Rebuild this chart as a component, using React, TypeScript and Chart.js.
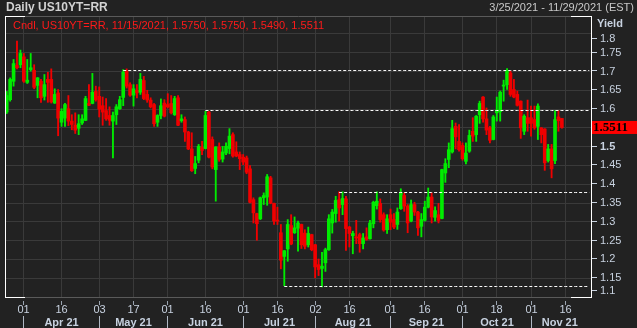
import React, { useEffect, useRef } from 'react';
import { Chart, registerables } from 'chart.js';
Chart.register(...registerables);

// ---------- data ----------
const HOLIDAYS = ['2021-05-31', '2021-07-05', '2021-09-06', '2021-10-11', '2021-11-11', '2021-11-25'];
function tradingDays(start: string, end: string): string[] {
  const out: string[] = [];
  const d = new Date(start + 'T00:00:00Z');
  const e = new Date(end + 'T00:00:00Z');
  while (d <= e) {
    const wd = d.getUTCDay();
    const s = d.toISOString().slice(0, 10);
    if (wd !== 0 && wd !== 6 && !HOLIDAYS.includes(s)) out.push(s);
    d.setUTCDate(d.getUTCDate() + 1);
  }
  return out;
}
const dates = tradingDays('2021-03-25', '2021-11-26');

const opens = [
  1.592, 1.625, 1.674, 1.716, 1.718, 1.739, 1.671, 1.705, 1.703, 1.663,
  1.674, 1.634, 1.679, 1.679, 1.616, 1.643, 1.565, 1.576, 1.601, 1.568,
  1.557, 1.549, 1.563, 1.570, 1.615, 1.615, 1.647, 1.634, 1.609, 1.596,
  1.583, 1.568, 1.585, 1.601, 1.631, 1.701, 1.665, 1.637, 1.650, 1.645,
  1.676, 1.639, 1.624, 1.612, 1.565, 1.583, 1.616, 1.612, 1.615, 1.585,
  1.630, 1.569, 1.572, 1.539, 1.494, 1.442, 1.464, 1.498, 1.495, 1.592,
  1.519, 1.439, 1.499, 1.467, 1.483, 1.495, 1.532, 1.486, 1.479, 1.472,
  1.470, 1.441, 1.359, 1.322, 1.308, 1.364, 1.366, 1.417, 1.349, 1.304,
  1.271, 1.208, 1.228, 1.290, 1.271, 1.283, 1.293, 1.270, 1.239, 1.266,
  1.239, 1.186, 1.176, 1.191, 1.226, 1.297, 1.322, 1.359, 1.346, 1.361,
  1.286, 1.263, 1.260, 1.266, 1.242, 1.260, 1.255, 1.295, 1.343, 1.349,
  1.319, 1.279, 1.319, 1.306, 1.293, 1.335, 1.370, 1.342, 1.302, 1.346,
  1.326, 1.288, 1.304, 1.339, 1.366, 1.312, 1.319, 1.309, 1.430, 1.466,
  1.486, 1.554, 1.514, 1.503, 1.461, 1.488, 1.541, 1.532, 1.585, 1.632,
  1.574, 1.550, 1.519, 1.590, 1.593, 1.661, 1.665, 1.696, 1.652, 1.639,
  1.621, 1.541, 1.577, 1.577, 1.572, 1.554, 1.550, 1.547, 1.463, 1.494,
  1.463, 1.579, 1.575,
];
const highs = [
  1.647, 1.683, 1.732, 1.781, 1.757, 1.748, 1.732, 1.748, 1.718, 1.684,
  1.679, 1.692, 1.698, 1.707, 1.654, 1.652, 1.601, 1.615, 1.636, 1.585,
  1.590, 1.585, 1.585, 1.634, 1.665, 1.695, 1.661, 1.659, 1.632, 1.628,
  1.606, 1.592, 1.612, 1.634, 1.705, 1.707, 1.670, 1.665, 1.665, 1.695,
  1.687, 1.650, 1.630, 1.615, 1.585, 1.627, 1.625, 1.641, 1.636, 1.634,
  1.636, 1.585, 1.579, 1.541, 1.537, 1.474, 1.506, 1.514, 1.594, 1.594,
  1.526, 1.500, 1.510, 1.501, 1.510, 1.548, 1.537, 1.513, 1.486, 1.479,
  1.475, 1.450, 1.364, 1.323, 1.366, 1.377, 1.426, 1.421, 1.350, 1.339,
  1.293, 1.224, 1.306, 1.319, 1.313, 1.302, 1.294, 1.279, 1.286, 1.267,
  1.240, 1.201, 1.219, 1.230, 1.319, 1.333, 1.368, 1.380, 1.380, 1.368,
  1.288, 1.275, 1.304, 1.270, 1.269, 1.284, 1.304, 1.355, 1.380, 1.361,
  1.324, 1.319, 1.334, 1.322, 1.337, 1.388, 1.377, 1.346, 1.358, 1.352,
  1.328, 1.322, 1.355, 1.390, 1.377, 1.340, 1.349, 1.440, 1.468, 1.510,
  1.570, 1.563, 1.559, 1.510, 1.510, 1.544, 1.577, 1.583, 1.621, 1.633,
  1.603, 1.554, 1.583, 1.632, 1.648, 1.677, 1.708, 1.701, 1.679, 1.648,
  1.622, 1.585, 1.624, 1.608, 1.608, 1.614, 1.551, 1.548, 1.506, 1.506,
  1.596, 1.596, 1.575,
];
const lows = [
  1.588, 1.621, 1.661, 1.707, 1.710, 1.671, 1.668, 1.701, 1.654, 1.630,
  1.618, 1.624, 1.618, 1.616, 1.615, 1.529, 1.554, 1.554, 1.556, 1.545,
  1.535, 1.532, 1.559, 1.569, 1.609, 1.614, 1.621, 1.579, 1.557, 1.570,
  1.557, 1.470, 1.559, 1.599, 1.609, 1.656, 1.634, 1.608, 1.630, 1.639,
  1.625, 1.618, 1.603, 1.554, 1.554, 1.574, 1.579, 1.603, 1.587, 1.583,
  1.556, 1.565, 1.514, 1.492, 1.434, 1.428, 1.457, 1.479, 1.494, 1.470,
  1.441, 1.355, 1.461, 1.459, 1.479, 1.481, 1.472, 1.473, 1.439, 1.452,
  1.428, 1.350, 1.297, 1.251, 1.306, 1.346, 1.344, 1.348, 1.293, 1.293,
  1.175, 1.130, 1.195, 1.239, 1.269, 1.222, 1.229, 1.228, 1.233, 1.223,
  1.151, 1.157, 1.127, 1.168, 1.224, 1.270, 1.299, 1.302, 1.319, 1.224,
  1.233, 1.215, 1.242, 1.219, 1.228, 1.251, 1.254, 1.284, 1.334, 1.299,
  1.275, 1.269, 1.279, 1.282, 1.280, 1.333, 1.328, 1.271, 1.300, 1.317,
  1.264, 1.260, 1.302, 1.337, 1.297, 1.302, 1.297, 1.308, 1.405, 1.444,
  1.483, 1.494, 1.488, 1.464, 1.454, 1.485, 1.514, 1.514, 1.562, 1.565,
  1.532, 1.510, 1.518, 1.568, 1.568, 1.621, 1.652, 1.634, 1.630, 1.608,
  1.522, 1.532, 1.541, 1.528, 1.546, 1.519, 1.510, 1.437, 1.459, 1.417,
  1.455, 1.541, 1.549,
];
const closes = [
  1.636, 1.679, 1.721, 1.710, 1.748, 1.674, 1.677, 1.710, 1.658, 1.683,
  1.630, 1.665, 1.671, 1.619, 1.639, 1.576, 1.594, 1.612, 1.568, 1.559,
  1.544, 1.561, 1.574, 1.628, 1.610, 1.645, 1.625, 1.600, 1.592, 1.574,
  1.570, 1.583, 1.606, 1.625, 1.698, 1.661, 1.637, 1.654, 1.643, 1.679,
  1.628, 1.624, 1.606, 1.561, 1.583, 1.609, 1.581, 1.606, 1.590, 1.628,
  1.557, 1.574, 1.539, 1.494, 1.436, 1.455, 1.501, 1.490, 1.583, 1.472,
  1.446, 1.499, 1.466, 1.486, 1.501, 1.528, 1.475, 1.475, 1.468, 1.459,
  1.432, 1.352, 1.324, 1.295, 1.364, 1.370, 1.420, 1.350, 1.302, 1.302,
  1.198, 1.223, 1.293, 1.241, 1.284, 1.297, 1.239, 1.235, 1.269, 1.226,
  1.180, 1.173, 1.182, 1.226, 1.308, 1.326, 1.357, 1.337, 1.362, 1.282,
  1.269, 1.269, 1.257, 1.242, 1.257, 1.253, 1.297, 1.352, 1.355, 1.306,
  1.278, 1.308, 1.299, 1.286, 1.326, 1.378, 1.342, 1.297, 1.346, 1.326,
  1.284, 1.306, 1.339, 1.366, 1.313, 1.330, 1.304, 1.439, 1.455, 1.492,
  1.548, 1.526, 1.492, 1.468, 1.483, 1.530, 1.528, 1.581, 1.615, 1.574,
  1.544, 1.517, 1.579, 1.597, 1.645, 1.664, 1.701, 1.639, 1.632, 1.610,
  1.550, 1.581, 1.562, 1.562, 1.550, 1.608, 1.532, 1.457, 1.494, 1.441,
  1.572, 1.569, 1.5511,
];

// horizontal support / resistance levels
const levelValues = [1.7026, 1.5962, 1.378, 1.1279];
const levelStarts = ['2021-05-12', '2021-06-16', '2021-08-11', '2021-07-20'];

// axis labels
const yTickLabels = ['1.1', '1.15', '1.2', '1.25', '1.3', '1.35', '1.4', '1.45', '1.5', '1.55', '1.6', '1.65', '1.7', '1.75', '1.8'];
const boldYLabels = ['1.5'];
const xTickDates = ['2021-04-01', '2021-04-16', '2021-05-03', '2021-05-17', '2021-06-01', '2021-06-16', '2021-07-01', '2021-07-16',
  '2021-08-02', '2021-08-16', '2021-09-01', '2021-09-16', '2021-10-01', '2021-10-18', '2021-11-01', '2021-11-16'];
const monthStarts = ['2021-04-01', '2021-05-03', '2021-06-01', '2021-07-01', '2021-08-02', '2021-09-01', '2021-10-01', '2021-11-01'];
const monthLabels = ['Apr 21', 'May 21', 'Jun 21', 'Jul 21', 'Aug 21', 'Sep 21', 'Oct 21', 'Nov 21'];

const TITLE = 'Daily US10YT=RR';
const RANGE_TEXT = '3/25/2021 - 11/29/2021 (EST)';
const LEGEND_TEXT = 'Cndl, US10YT=RR, 11/15/2021, 1.5750, 1.5750, 1.5490, 1.5511';
const Y_TITLE = 'Yield';

// ---------- styles ----------
const BG = '#222222';
const GRID = '#3a3a3a';
const GREEN = '#00ec00';
const RED = '#f00000';
const AXIS_TEXT = '#c8d2e0';
const SANS = "'Liberation Sans', Arial, sans-serif";

export default function App() {
  const ref = useRef<HTMLCanvasElement>(null);

  useEffect(() => {
    const canvas = ref.current;
    if (!canvas) return;
    const colors = opens.map((o, i) => (closes[i] >= o ? GREEN : RED));
    const tickIdx = new Set(xTickDates.map((d) => dates.indexOf(d)));
    const levelData = levelValues.map((v, k) => {
      const s = dates.indexOf(levelStarts[k]);
      return dates.map((_, i) => (i >= s ? v : null));
    });

    const decor = {
      id: 'decor',
      beforeDraw(chart: any) {
        const c = chart.ctx;
        c.save();
        c.fillStyle = BG;
        c.fillRect(0, 0, chart.width, chart.height);
        c.restore();
      },
      afterDraw(chart: any) {
        const c = chart.ctx;
        const a = chart.chartArea;
        const xs = chart.scales.x;
        const ys = chart.scales.y;
        c.save();
        c.lineWidth = 1;
        // frame
        c.strokeStyle = '#5a5a5a';
        c.beginPath();
        c.moveTo(a.left, a.top - 0.5); c.lineTo(a.right + 1, a.top - 0.5);
        c.moveTo(a.left, a.bottom + 0.5); c.lineTo(a.right + 1, a.bottom + 0.5);
        c.stroke();
        c.strokeStyle = '#ffffff';
        c.beginPath();
        c.moveTo(a.left + 0.5, a.top - 1); c.lineTo(a.left + 0.5, a.bottom + 1);
        c.moveTo(a.right + 0.5, a.top - 1); c.lineTo(a.right + 0.5, a.bottom + 1);
        c.moveTo(a.left, a.top - 0.5); c.lineTo(a.left + 20, a.top - 0.5);
        c.moveTo(a.right - 20, a.top - 0.5); c.lineTo(a.right + 1, a.top - 0.5);
        c.moveTo(a.left, a.bottom + 0.5); c.lineTo(a.left + 20, a.bottom + 0.5);
        c.moveTo(a.right - 20, a.bottom + 0.5); c.lineTo(a.right + 1, a.bottom + 0.5);
        c.stroke();

        // y labels
        c.textBaseline = 'middle';
        c.textAlign = 'left';
        c.fillStyle = AXIS_TEXT;
        c.strokeStyle = AXIS_TEXT;
        yTickLabels.forEach((t) => {
          const py = ys.getPixelForValue(parseFloat(t));
          const ly = Math.max(39, Math.min(291, py));
          c.font = (boldYLabels.includes(t) ? 'bold ' : '') + '11px ' + SANS;
          c.beginPath();
          c.moveTo(a.right + 1, Math.round(ly) - 0.5);
          c.lineTo(a.right + 6, Math.round(ly) - 0.5);
          c.stroke();
          c.fillText(t, a.right + 9, ly);
        });
        c.font = 'bold 11px ' + SANS;
        c.fillText(Y_TITLE, a.right + 6, 23.5);

        // last price box
        const last = closes[closes.length - 1];
        const lp = ys.getPixelForValue(last);
        c.fillStyle = '#ff0000';
        c.fillRect(a.right + 1, lp - 6.5, chart.width - a.right - 1, 13);
        c.fillStyle = '#000000';
        c.font = "bold 13px 'Liberation Serif', 'Times New Roman', serif";
        c.fillText(last.toFixed(4), a.right + 2, lp + 0.5);

        // x tick marks and day labels
        c.strokeStyle = '#9aa4b0';
        c.fillStyle = AXIS_TEXT;
        c.textAlign = 'center';
        c.font = '11px ' + SANS;
        xTickDates.forEach((d) => {
          const px = Math.round(xs.getPixelForValue(dates.indexOf(d)) - 0.5) + 0.5;
          c.beginPath();
          c.moveTo(px, a.bottom + 4); c.lineTo(px, a.bottom + 8);
          c.stroke();
          c.fillText(d.slice(8, 10), px, a.bottom + 12.5);
        });
        // month separators and labels
        const mx = monthStarts.map((d) => Math.round(xs.getPixelForValue(dates.indexOf(d)) - 0.5) + 0.5);
        c.strokeStyle = '#b0b8c4';
        c.font = 'bold 11px ' + SANS;
        mx.forEach((px, i) => {
          c.beginPath();
          c.moveTo(px, a.bottom + 19); c.lineTo(px, chart.height);
          c.stroke();
          const nx = i + 1 < mx.length ? mx[i + 1] : a.right - 3;
          c.fillText(monthLabels[i], (px + nx) / 2, a.bottom + 25.5);
        });

        // header texts
        c.textAlign = 'left';
        c.fillStyle = '#d2d2d2';
        c.font = 'bold 12px ' + SANS;
        c.fillText(TITLE, 6, 8);
        c.textAlign = 'right';
        c.fillStyle = '#c8c8c8';
        c.font = '11px ' + SANS;
        c.fillText(RANGE_TEXT, 634, 8);
        c.textAlign = 'left';
        c.fillStyle = '#ff1a1a';
        c.fillText(LEGEND_TEXT, 13, 25.5);
        c.restore();
      },
    };

    const chart = new Chart(canvas, {
      type: 'bar',
      data: {
        labels: dates,
        datasets: [
          ...levelData.map((d, k) => ({
            type: 'line' as const,
            label: 'level ' + levelValues[k],
            data: d,
            borderColor: '#ffffff',
            borderWidth: 1,
            borderDash: [3, 2],
            pointRadius: 0,
            fill: false,
            tension: 0,
            order: 0,
          })),
          {
            type: 'bar' as const,
            label: 'body',
            data: opens.map((o, i) => [o, closes[i]]),
            backgroundColor: colors,
            barThickness: 3,
            minBarLength: 1,
            grouped: false,
            borderWidth: 0,
            order: 1,
          },
          {
            type: 'bar' as const,
            label: 'wick',
            data: lows.map((l, i) => [l, highs[i]]),
            backgroundColor: colors,
            barThickness: 1.2,
            grouped: false,
            borderWidth: 0,
            order: 2,
          },
        ] as any,
      },
      options: {
        animation: false,
        responsive: false,
        devicePixelRatio: 1,
        events: [],
        layout: { padding: { left: 5, top: 17, right: 0, bottom: 0 } },
        plugins: { legend: { display: false }, tooltip: { enabled: false } },
        scales: {
          x: {
            type: 'category',
            offset: true,
            ticks: { display: false, autoSkip: false },
            border: { display: false },
            grid: {
              offset: false,
              drawTicks: false,
              color: (ctx: any) => (tickIdx.has(ctx.index) ? GRID : 'rgba(0,0,0,0)'),
            },
            afterFit: (s: any) => { s.height = 31; },
          },
          y: {
            position: 'right',
            min: 1.1,
            max: 1.845,
            ticks: { display: false, stepSize: 0.05 },
            border: { display: false },
            grid: {
              drawTicks: false,
              color: (ctx: any) => (ctx.tick && ctx.tick.value > 1.82 ? 'rgba(0,0,0,0)' : GRID),
            },
            afterFit: (s: any) => { s.width = 46; },
          },
        },
      } as any,
      plugins: [decor],
    });
    return () => chart.destroy();
  }, []);

  return (
    <div style={{ position: 'fixed', left: 0, top: 0, width: 637, height: 328, background: BG }}>
      <canvas ref={ref} width={637} height={328} style={{ display: 'block', width: 637, height: 328 }} />
    </div>
  );
}
